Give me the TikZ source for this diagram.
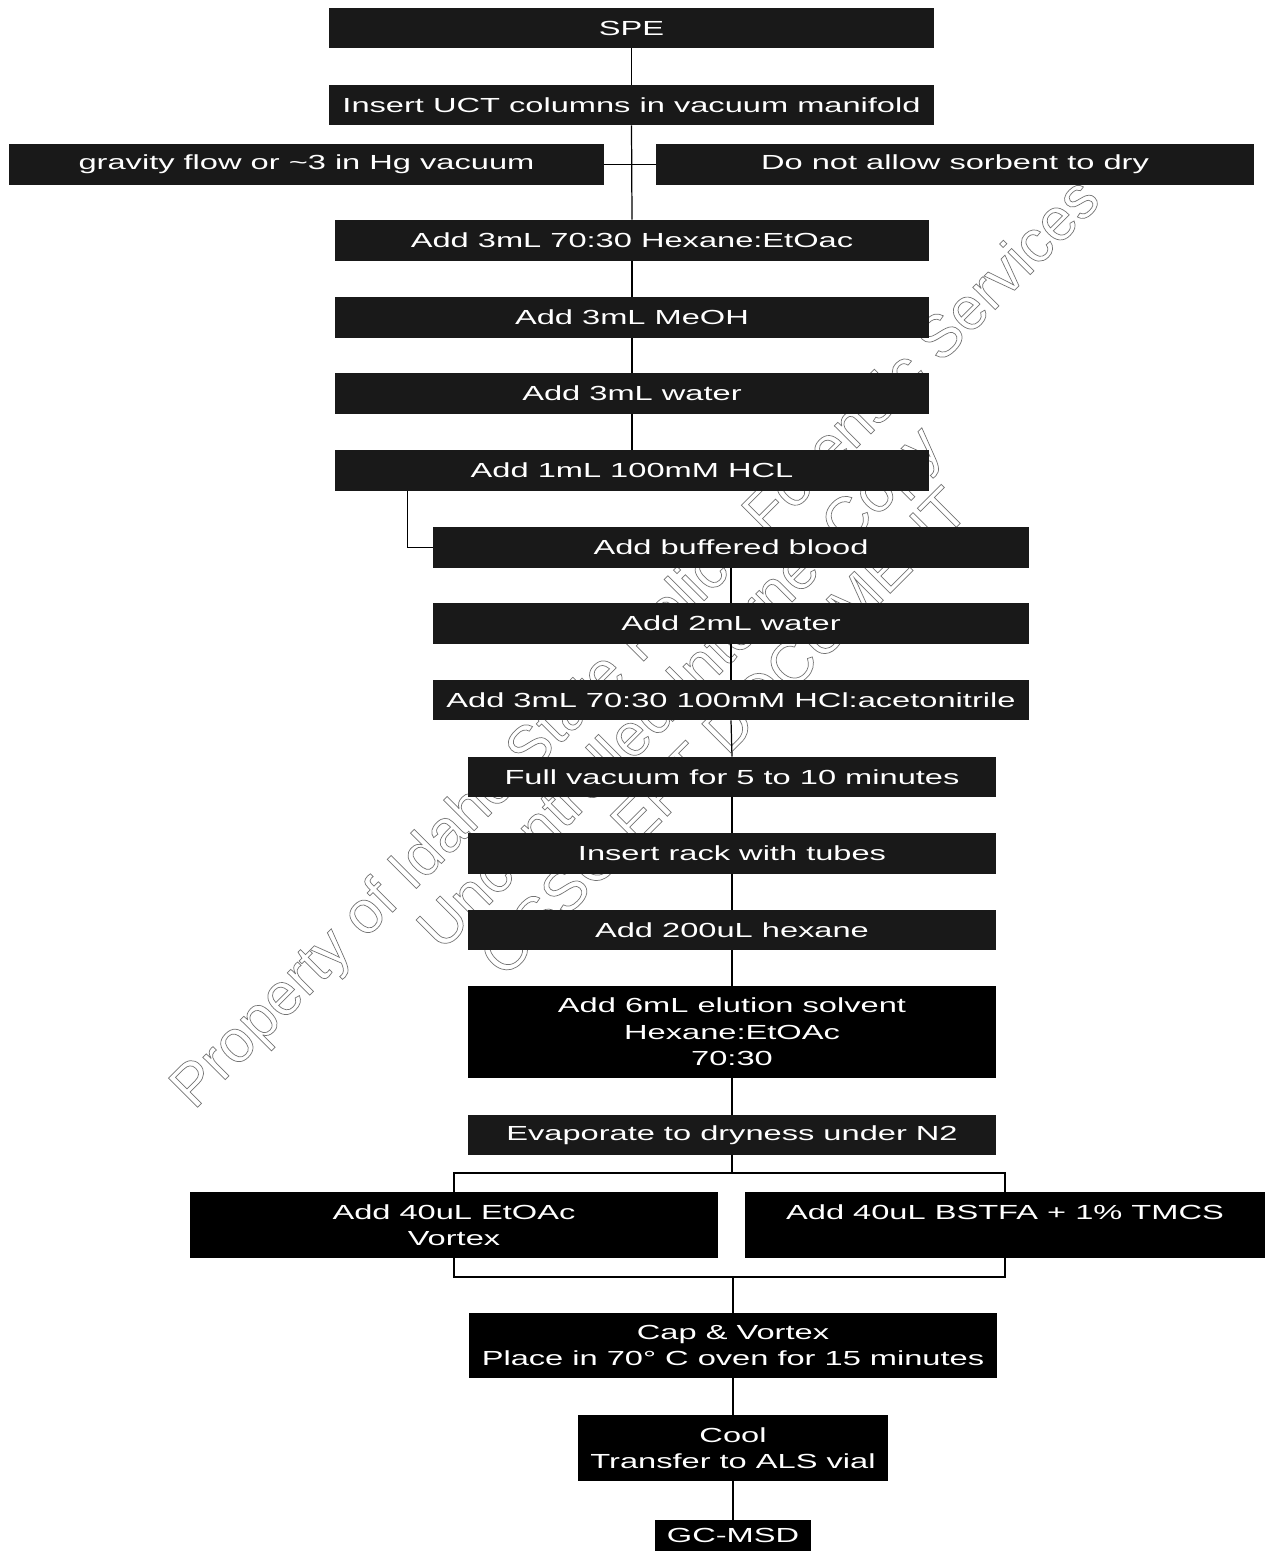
\documentclass[tikz,border=0pt]{standalone}
\usepackage{fontspec}
\setmainfont{Liberation Sans}[FakeStretch=1.6]
\newfontfamily\wmfont{Liberation Sans}
\def\px{0.02cm}
\def\outlinetext#1{\special{pdf:literal direct 1 Tr 0.4 w}#1\special{pdf:literal direct 0 Tr}}
\tikzset{
	stepbox/.style={fill=black!90, text=white, align=center, inner sep=0pt, font=\fontsize{11.6}{15}\selectfont},
	solidbox/.style={stepbox, fill=black},
	link/.style={line width=0.7pt, color=black}
}

\begin{document}
\begin{tikzpicture}[x=0.02cm, y=-0.02cm]
		%%%%% START %%%%%
		\useasboundingbox (0, 0) rectangle (1265, 1551);
		
		\node[rotate=45, text=black!55, align=center, font=\wmfont\fontsize{34}{36}\selectfont] (wmark) at (678, 686) {\outlinetext{Property of Idaho State Police Forensic Services}\\\outlinetext{Uncontrolled Internet Copy}\\\outlinetext{OSSC EFT DOCUMENT}};
		
		\node[stepbox, minimum width=605*\px, minimum height=40*\px] (spe) at (631.5, 28) {SPE};
		\node[stepbox, minimum width=605*\px, minimum height=40*\px] (uct) at (631.5, 105) {Insert UCT columns in vacuum manifold};
		\node[stepbox, minimum width=595*\px, minimum height=41*\px] (grav) at (306.5, 164.5) {gravity flow or \textasciitilde 3 in Hg vacuum};
		\node[stepbox, minimum width=598*\px, minimum height=41*\px] (dry) at (955, 164.5) {Do not allow sorbent to dry};
		
		\node[stepbox, minimum width=594*\px, minimum height=41*\px] (hex3) at (632, 240.5) {Add 3mL 70:30 Hexane:EtOac};
		\node[stepbox, minimum width=594*\px, minimum height=41*\px] (meoh) at (632, 317.5) {Add 3mL MeOH};
		\node[stepbox, minimum width=594*\px, minimum height=41*\px] (wat3) at (632, 393.5) {Add 3mL water};
		\node[stepbox, minimum width=594*\px, minimum height=41*\px] (hcl) at (632, 470.5) {Add 1mL 100mM HCL};
		
		\node[stepbox, minimum width=596*\px, minimum height=41*\px] (blood) at (731, 547.5) {Add buffered blood};
		\node[stepbox, minimum width=596*\px, minimum height=41*\px] (wat2) at (731, 623.5) {Add 2mL water};
		\node[stepbox, minimum width=596*\px, minimum height=40*\px] (acn) at (731, 700) {Add 3mL 70:30 100mM HCl:acetonitrile};
		
		\node[stepbox, minimum width=528*\px, minimum height=40*\px] (vac) at (732, 777) {Full vacuum for 5 to 10 minutes};
		\node[stepbox, minimum width=528*\px, minimum height=41*\px] (rack) at (732, 853.5) {Insert rack with tubes};
		\node[stepbox, minimum width=528*\px, minimum height=40*\px] (hex200) at (732, 930) {Add 200uL hexane};
		\node[solidbox, minimum width=528*\px, minimum height=92*\px] (elu) at (732, 1032) {Add 6mL elution solvent\\Hexane:EtOAc\\70:30};
		\node[stepbox, minimum width=528*\px, minimum height=40*\px] (evap) at (732, 1135) {Evaporate to dryness under N2};
		
		\node[solidbox, minimum width=528*\px, minimum height=66*\px] (etoac) at (454, 1225) {Add 40uL EtOAc\\Vortex};
		\node[solidbox, minimum width=520*\px, minimum height=66*\px] (bstfa) at (1005, 1225) {Add 40uL BSTFA + 1\% TMCS\\\phantom{Vortex}};
		
		\node[solidbox, minimum width=528*\px, minimum height=65*\px] (cap) at (733, 1345.5) {Cap \& Vortex\\Place in 70° C oven for 15 minutes};
		\node[solidbox, minimum width=310*\px, minimum height=66*\px] (cool) at (733, 1448) {Cool\\Transfer to ALS vial};
		\node[solidbox, minimum width=156*\px, minimum height=31*\px] (gcmsd) at (733, 1535.5) {GC-MSD};
		
		\coordinate (fork) at (732, 1173);
		\coordinate (join) at (733, 1277);
		
		\draw[link] (spe.south) -- (uct.north);
		\draw[link] (uct.south) -- (hex3.north);
		\draw[link] (grav.east) -- (dry.west);
		\draw[link] (hex3.south) -- (meoh.north);
		\draw[link] (meoh.south) -- (wat3.north);
		\draw[link] (wat3.south) -- (hcl.north);
		\draw[link] ([xshift=73*\px]hcl.south west) |- (blood.west);
		\draw[link] (blood.south) -- (wat2.north);
		\draw[link] (wat2.south) -- (acn.north);
		\draw[link] (acn.south) -- (vac.north);
		\draw[link] (vac.south) -- (rack.north);
		\draw[link] (rack.south) -- (hex200.north);
		\draw[link] (hex200.south) -- (elu.north);
		\draw[link] (elu.south) -- (evap.north);
		\draw[link] (evap.south) -- (fork);
		\draw[link] (etoac.north) |- (fork) -| (bstfa.north);
		\draw[link] (etoac.south) |- (join) -| (bstfa.south);
		\draw[link] (join) -- (cap.north);
		\draw[link] (cap.south) -- (cool.north);
		\draw[link] (cool.south) -- (gcmsd.north);
		
		%%%%% END %%%%%
\end{tikzpicture}
\end{document}
